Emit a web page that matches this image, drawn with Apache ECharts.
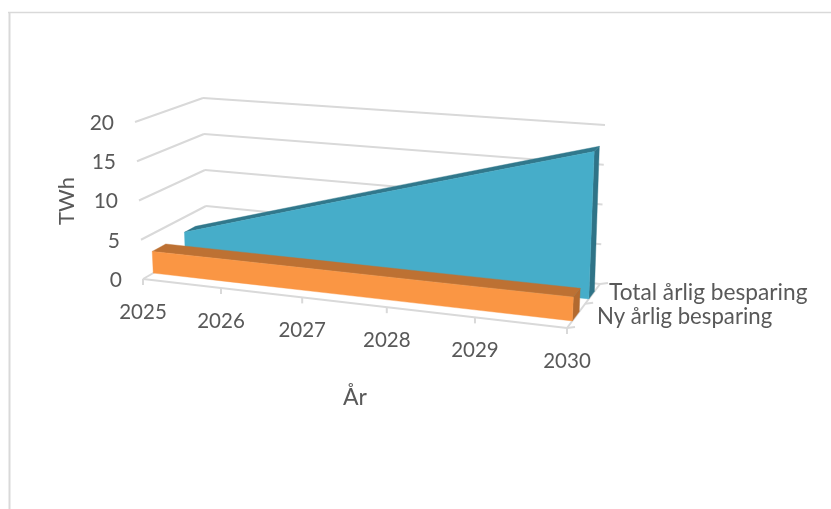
<!DOCTYPE html>
<html>
<head>
<meta charset="utf-8">
<style>html,body{margin:0;padding:0;background:#fff}#chart{width:831px;height:509px}</style>
<script src="https://cdn.jsdelivr.net/npm/echarts@6/dist/echarts.min.js"></script>
</head>
<body>
<div id="chart"></div>
<script>
// Energy savings per year, shown as two ribbons in a 3D-style box.
const years = ['2025', '2026', '2027', '2028', '2029', '2030'];
const totalSaving = [3, 6, 9, 12, 15, 18];
const newSaving = [2.8, 2.8, 2.8, 2.8, 2.8, 2.8];
const valueTicks = [0, 5, 10, 15, 20];
const seriesNames = ['Total årlig besparing', 'Ny årlig besparing'];
const valueAxisName = 'TWh';
const yearAxisName = 'År';

// Corners of the box on screen: [front/back][left/right][floor/top].
const BOX = {
  f0: [[143, 279], [135, 122]],
  f1: [[567, 328], [575, 155]],
  b0: [[207, 242], [203, 98]],
  b1: [[600, 284], [605, 125]]
};
const PERSPECTIVE = 1.109;
const RIBBONS = {
  total: { front: 0.66, back: 0.83, face: '#46ADC9', top: '#31788C', side: '#2F7387' },
  fresh: { front: 0.16, back: 0.37, face: '#FA9644', top: '#BD7133', side: '#B36A2F' }
};
const DEPTH_TICKS = [0, 0.55, 1];
const GRID_COLOR = '#D9D9D9';
const TEXT_COLOR = '#595959';
const FONT = 'Lato, "Open Sans", sans-serif';

const mix = (a, b, t) => [a[0] + (b[0] - a[0]) * t, a[1] + (b[1] - a[1]) * t];

// Maps normalized axis position (u along years, v along values, w in depth) onto the screen.
function project(u, v, w) {
  const p = u / (u + PERSPECTIVE * (1 - u));
  const frontFloor = mix(BOX.f0[0], BOX.f1[0], p);
  const frontTop = mix(BOX.f0[1], BOX.f1[1], p);
  const backFloor = mix(BOX.b0[0], BOX.b1[0], p);
  const backTop = mix(BOX.b0[1], BOX.b1[1], p);
  return mix(mix(frontFloor, frontTop, v), mix(backFloor, backTop, v), w);
}

// Turns a data pair into normalized positions through the hidden cartesian axes.
function normalize(api, params, yearIndex, value) {
  const c = api.coord([yearIndex, value]);
  const g = params.coordSys;
  return [(c[0] - g.x) / g.width, (g.y + g.height - c[1]) / g.height];
}

const poly = (points, fill) => ({
  type: 'polygon', shape: { points }, style: { fill, stroke: fill, lineWidth: 0.4 }
});
const seg = (a, b, width) => ({
  type: 'line',
  shape: { x1: a[0], y1: a[1], x2: b[0], y2: b[1] },
  style: { stroke: GRID_COLOR, lineWidth: width || 2, fill: null }
});
const label = (text, x, y, align, size) => ({
  type: 'text', x, y,
  style: { text, fill: TEXT_COLOR, font: size + 'px ' + FONT, align, verticalAlign: 'middle' }
});

function ribbonRenderer(values, look) {
  return function (params, api) {
    if (params.dataIndex !== 0) return null;
    const pts = values.map((v, i) => normalize(api, params, i, v));
    const base = values.map((v, i) => normalize(api, params, i, 0));
    const front = pts.map(p => project(p[0], p[1], look.front));
    const back = pts.map(p => project(p[0], p[1], look.back));
    const floorFront = base.map(p => project(p[0], p[1], look.front));
    const floorBack = base.map(p => project(p[0], p[1], look.back));
    const last = values.length - 1;
    return {
      type: 'group',
      children: [
        poly([floorBack[last], back[last], front[last], floorFront[last]], look.side),
        poly(front.concat(back.slice().reverse()), look.top),
        poly(front.concat(floorFront.slice().reverse()), look.face)
      ]
    };
  };
}

function wallRenderer(params, api) {
  const value = valueTicks[params.dataIndex];
  const n = normalize(api, params, 0, value);
  const a = project(0, n[1], 0);
  const b = project(0, n[1], 1);
  const c = project(1, n[1], 1);
  return {
    type: 'group',
    children: [
      seg(a, b), seg(b, c),
      label(String(value), a[0] - 21, a[1] + 1, 'right', 21)
    ]
  };
}

function floorRenderer(params, api) {
  const n = normalize(api, params, params.dataIndex, 0);
  const a = project(n[0], 0, 0);
  return {
    type: 'group',
    children: [
      seg(a, [a[0], a[1] + 6]),
      label(years[params.dataIndex], a[0], a[1] + 33, 'center', 20.5)
    ]
  };
}

function depthRenderer(params, api) {
  const right = normalize(api, params, years.length - 1, 0)[0];
  const a = project(right, 0, 0);
  const b = project(right, 0, 1);
  const front = project(0, 0, 0);
  const children = [seg(front, a), seg(a, b)];
  DEPTH_TICKS.forEach(w => {
    const t = project(right, 0, w);
    children.push(seg(t, [t[0] + 8, t[1] - 1]));
  });
  return { type: 'group', children };
}

const yearRows = years.map((y, i) => [i, 0]);
const textStyle = (text, size, align) => ({
  text, fill: TEXT_COLOR, font: size + 'px ' + FONT, align, verticalAlign: 'middle'
});

const option = {
  animation: false,
  backgroundColor: '#fff',
  grid: { left: 100, right: 100, top: 100, bottom: 100, show: false },
  xAxis: { type: 'category', data: years, boundaryGap: false, show: false },
  yAxis: { type: 'value', min: 0, max: 20, interval: 5, show: false },
  tooltip: { show: false },
  graphic: [
    { type: 'line', shape: { x1: 8, y1: 12.5, x2: 831, y2: 12.5 }, style: { stroke: GRID_COLOR, lineWidth: 1.5 }, silent: true },
    { type: 'line', shape: { x1: 9.5, y1: 12, x2: 9.5, y2: 509 }, style: { stroke: GRID_COLOR, lineWidth: 2 }, silent: true },
    { type: 'text', x: 67, y: 201, rotation: Math.PI / 2, style: textStyle(valueAxisName, 22, 'center') },
    { type: 'text', x: 355, y: 398, style: textStyle(yearAxisName, 23, 'center') },
    { type: 'text', x: 609, y: 293, style: textStyle(seriesNames[0], 22.7, 'left') },
    { type: 'text', x: 597, y: 317, style: textStyle(seriesNames[1], 22.2, 'left') }
  ],
  series: [
    { type: 'custom', name: 'walls', z: 1, data: valueTicks.map(v => [0, v]), renderItem: wallRenderer, silent: true },
    { type: 'custom', name: 'floor', z: 1, data: [[0, 0]], renderItem: depthRenderer, silent: true },
    { type: 'custom', name: 'ticks', z: 1, data: yearRows, renderItem: floorRenderer, silent: true },
    { type: 'custom', name: seriesNames[0], z: 2, data: totalSaving.map((v, i) => [i, v]), renderItem: ribbonRenderer(totalSaving, RIBBONS.total), silent: true },
    { type: 'custom', name: seriesNames[1], z: 3, data: newSaving.map((v, i) => [i, v]), renderItem: ribbonRenderer(newSaving, RIBBONS.fresh), silent: true }
  ]
};

const chart = echarts.init(document.getElementById('chart'), null, { renderer: 'canvas' });
chart.setOption(option);
</script>
</body>
</html>
